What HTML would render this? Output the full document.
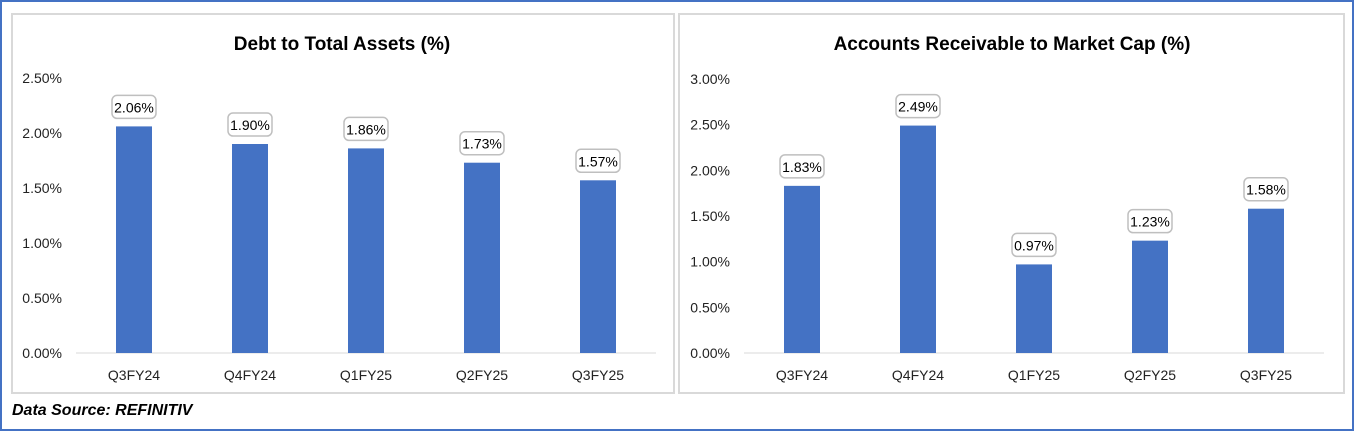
<!DOCTYPE html>
<html><head><meta charset="utf-8"><style>
body{margin:0;width:1354px;height:431px;background:#fff;overflow:hidden;font-family:"Liberation Sans",sans-serif}
#frame{position:absolute;left:0;top:0;width:1350px;height:427px;border:2px solid #4472c4}
.panel{position:absolute;top:13px;height:381px;border:2px solid #d9d9d9;box-sizing:border-box;background:#fff}
#src{position:absolute;left:12px;top:402px;font-weight:bold;font-style:italic;font-size:16px;color:#000}
svg{position:absolute;left:0;top:0}
</style></head><body>
<div id="frame"></div>
<div class="panel" style="left:11px;width:664px"></div>
<div class="panel" style="left:678px;width:667px"></div>
<div id="src">Data Source: REFINITIV</div>
<svg id="chart" width="1354" height="431"></svg>
<script>
const categories=["Q3FY24","Q4FY24","Q1FY25","Q2FY25","Q3FY25"];
const debtValues=[2.06,1.90,1.86,1.73,1.57];
const debtTicks=[0,0.5,1,1.5,2,2.5];
const arValues=[1.83,2.49,0.97,1.23,1.58];
const arTicks=[0,0.5,1,1.5,2,2.5,3];
const NS="http://www.w3.org/2000/svg";
const svg=document.getElementById('chart');
function mk(t,a,txt){const e=document.createElementNS(NS,t);for(const k in a)e.setAttribute(k,a[k]);if(txt!=null)e.textContent=txt;svg.appendChild(e);return e;}
function draw(cfg){
  const {x0,x1,y0,yTop,max,values,ticks,title,tx,prefix,labelX}=cfg;
  const y=v=>y0-(v/max)*(y0-yTop);
  const step=(x1-x0)/categories.length;
  const xc=i=>x0+step*(i+0.5);
  let t=mk('text',{x:tx,y:50,'text-anchor':'middle','font-size':19,'font-weight':'bold',fill:'#000'},title);
  
  
  ticks.forEach(v=>{
    const l=mk('text',{x:labelX,y:y(v)+5,'text-anchor':'end','font-size':14,fill:'#222'},v.toFixed(2)+'%');
    
    
  });
  const ax=mk('line',{x1:x0,x2:x1,y1:y0,y2:y0,stroke:'#d9d9d9','stroke-width':1});
  
  
  values.forEach((v,i)=>{
    const b=mk('rect',{x:xc(i)-18,y:y(v),width:36,height:y0-y(v),fill:'#4472c4'});
    
    
    const bx=mk('rect',{x:xc(i)-22,y:y(v)-31,width:44,height:23,rx:5,fill:'#fff',stroke:'#bfbfbf','stroke-width':1.5});
    
    
    const vl=mk('text',{x:xc(i),y:y(v)-14,'text-anchor':'middle','font-size':14,fill:'#000'},v.toFixed(2)+'%');
    
    
    const cl=mk('text',{x:xc(i),y:y0+27,'text-anchor':'middle','font-size':14,fill:'#222'},categories[i]);
    
    
  });
}
draw({x0:76,x1:656,y0:353,yTop:78,max:2.5,values:debtValues,ticks:debtTicks,title:"Debt to Total Assets (%)",tx:342,prefix:'debt',labelX:62});
draw({x0:744,x1:1324,y0:353,yTop:79,max:3,values:arValues,ticks:arTicks,title:"Accounts Receivable to Market Cap (%)",tx:1012,prefix:'ar',labelX:730});
</script>
</body></html>
